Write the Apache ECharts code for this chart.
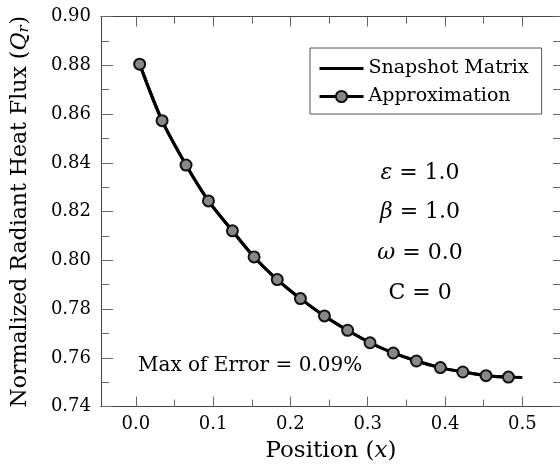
<!DOCTYPE html>
<html>
<head>
<meta charset="utf-8">
<script src="https://cdn.jsdelivr.net/npm/echarts@6/dist/echarts.min.js"></script>
<style>html,body{margin:0;padding:0;background:#fff;}#c{width:560px;height:472px;}</style>
</head>
<body>
<div id="c"></div>
<script>
// ---- data ----
const approxX = [0.005, 0.034, 0.065, 0.094, 0.125, 0.153, 0.183, 0.213, 0.244, 0.274, 0.303, 0.333, 0.363, 0.394, 0.423, 0.453, 0.482];
const approxQ = [0.8805, 0.8573, 0.8391, 0.8244, 0.8121, 0.8014, 0.7921, 0.7843, 0.7772, 0.7713, 0.7662, 0.7620, 0.7587, 0.7560, 0.7542, 0.7527, 0.7521];
const snapX = [0.005, 0.034, 0.065, 0.094, 0.125, 0.153, 0.183, 0.213, 0.244, 0.274, 0.303, 0.333, 0.363, 0.394, 0.423, 0.453, 0.482, 0.5];
const snapQ = [0.8805, 0.8573, 0.8391, 0.8244, 0.8121, 0.8014, 0.7921, 0.7843, 0.7772, 0.7713, 0.7662, 0.7620, 0.7587, 0.7560, 0.7542, 0.7527, 0.7521, 0.7519];
const xMajorTicks = [0, 0.1, 0.2, 0.3, 0.4, 0.5];
const xMinorTicks = [0.05, 0.15, 0.25, 0.35, 0.45];
const seriesNames = ['Snapshot Matrix', 'Approximation'];
const paramLabels = ['{i|ε} = 1.0', '{i|β} = 1.0', '{i|ω} = 0.0', 'C = 0'];
const errorLabel = 'Max of Error = 0.09%';

const FONT = 'DejaVu Serif';
const X_MIN = -0.045, X_MAX = 0.55, Y_MIN = 0.74, Y_MAX = 0.90;
const axisLineColor = '#444';
const tickColor = '#666';

function xAxisDef(opts) {
  return Object.assign({
    type: 'value', min: X_MIN, max: X_MAX, gridIndex: 0,
    axisLine: { show: true, onZero: false, lineStyle: { color: axisLineColor, width: 1 } },
    splitLine: { show: false },
    axisLabel: { show: false },
  }, opts);
}

const chart = echarts.init(document.getElementById('c'), null, { renderer: 'canvas' });
const option = {
  backgroundColor: '#fff',
  animation: false,
  grid: { left: 101, top: 16.6, width: 460, height: 390, outerBoundsMode: 'none', containLabel: false },
  xAxis: [
    xAxisDef({
      position: 'bottom',
      name: '{n|Position (}{i|x}{n|)}',
      nameLocation: 'middle', nameGap: 33,
      nameTextStyle: { rich: { n: { fontFamily: FONT, fontSize: 23, color: '#000' }, i: { fontFamily: FONT, fontSize: 23, fontStyle: 'italic', color: '#000' } } },
      axisTick: { show: true, inside: true, length: 10, lineStyle: { color: tickColor }, customValues: xMajorTicks },
      axisLabel: { show: true, customValues: xMajorTicks, margin: 9, fontFamily: FONT, fontSize: 18, color: '#000', formatter: v => v.toFixed(1) }
    }),
    xAxisDef({
      position: 'bottom',
      axisTick: { show: true, inside: true, length: 7, lineStyle: { color: tickColor }, customValues: xMinorTicks }
    }),
    xAxisDef({
      position: 'top',
      axisTick: { show: true, inside: true, length: 10, lineStyle: { color: tickColor }, customValues: xMajorTicks }
    }),
    xAxisDef({
      position: 'top',
      axisTick: { show: true, inside: true, length: 7, lineStyle: { color: tickColor }, customValues: xMinorTicks }
    })
  ],
  yAxis: [
    {
      type: 'value', min: Y_MIN, max: Y_MAX, interval: 0.02, position: 'left',
      name: '{n|Normalized Radiant Heat Flux (}{i|Q}{s|r}{n|)}',
      nameLocation: 'middle', nameRotate: 90, nameGap: 69,
      nameTextStyle: { rich: {
        n: { fontFamily: FONT, fontSize: 22, color: '#000' },
        i: { fontFamily: FONT, fontSize: 22, fontStyle: 'italic', color: '#000' },
        s: { fontFamily: FONT, fontSize: 15, fontStyle: 'italic', color: '#000', verticalAlign: 'bottom', padding: [9, 1, 0, 0] }
      } },
      axisLine: { show: true, onZero: false, lineStyle: { color: axisLineColor, width: 1 } },
      axisTick: { show: true, inside: true, length: 12, lineStyle: { color: tickColor } },
      minorTick: { show: true, splitNumber: 2, length: 8, lineStyle: { color: tickColor } },
      splitLine: { show: false },
      axisLabel: { margin: 10, fontFamily: FONT, fontSize: 18, color: '#000', formatter: v => v.toFixed(2) }
    },
    {
      type: 'value', min: Y_MIN, max: Y_MAX, interval: 0.02, position: 'right',
      axisLine: { show: true, onZero: false, lineStyle: { color: axisLineColor, width: 1 } },
      axisTick: { show: true, inside: true, length: 8, lineStyle: { color: tickColor } },
      minorTick: { show: true, splitNumber: 2, length: 8, lineStyle: { color: tickColor } },
      splitLine: { show: false },
      axisLabel: { show: false }
    }
  ],
  legend: {
    orient: 'vertical', left: 310, top: 48,
    data: [
      { name: seriesNames[0], icon: 'path://M0,0L44,0L44,3L0,3Z', itemStyle: { color: '#000' } },
      { name: seriesNames[1], lineStyle: { color: '#000', width: 3 } }
    ],
    itemWidth: 44, itemHeight: 14, itemGap: 9,
    padding: [11, 13, 8, 8],
    borderColor: '#555', borderWidth: 1, borderRadius: 0, backgroundColor: '#fff',
    textStyle: { fontFamily: FONT, fontSize: 19, color: '#000' }
  },
  graphic: [
    ...paramLabels.map((t, k) => ({
      type: 'text', x: 420, y: [173, 212, 253, 293][k], z: 10,
      style: { text: t, align: 'center', verticalAlign: 'middle', fontFamily: FONT, fontSize: 22, fill: '#000',
        rich: { i: { fontFamily: FONT, fontSize: 22, fontStyle: 'italic', fill: '#000' } } }
    })),
    {
      type: 'text', x: 138, y: 366, z: 10,
      style: { text: errorLabel, align: 'left', verticalAlign: 'middle', fontFamily: FONT, fontSize: 20, fill: '#000' }
    }
  ],
  series: [
    {
      name: seriesNames[0], type: 'line', xAxisIndex: 0, yAxisIndex: 0,
      data: snapX.map((x, i) => [x, snapQ[i]]),
      showSymbol: false, symbol: 'none', smooth: 0.3,
      lineStyle: { color: '#000', width: 3 }, itemStyle: { color: '#000' }, z: 2
    },
    {
      name: seriesNames[1], type: 'line', xAxisIndex: 0, yAxisIndex: 0,
      data: approxX.map((x, i) => [x, approxQ[i]]),
      symbol: 'circle', symbolSize: 11, smooth: 0.3,
      lineStyle: { color: '#000', width: 3 },
      itemStyle: { color: '#888', borderColor: '#111', borderWidth: 2 }, z: 3
    }
  ]
};
chart.setOption(option);
</script>
</body>
</html>
